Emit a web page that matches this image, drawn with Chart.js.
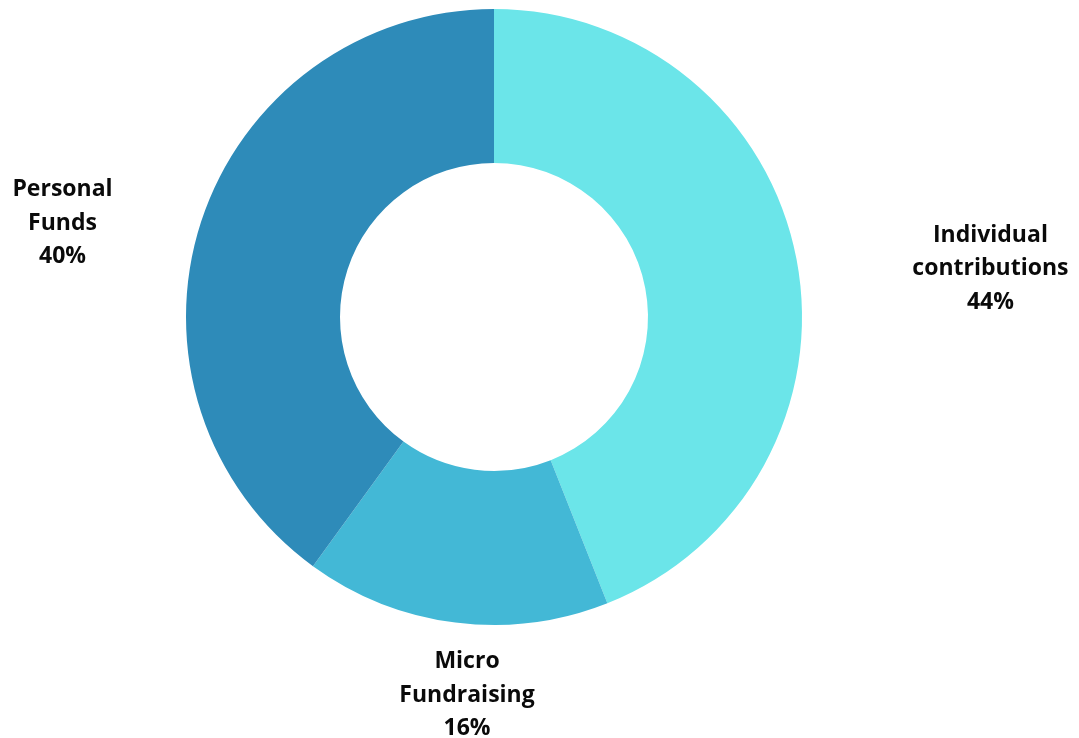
<!DOCTYPE html>
<html>
<head>
<meta charset="utf-8">
<script src="https://cdn.jsdelivr.net/npm/chart.js@4"></script>
<style>
  html,body{margin:0;padding:0;background:#fff;}
  #wrap{width:1079px;height:738px;position:relative;}
</style>
</head>
<body>
<div id="wrap"><canvas id="c"></canvas></div>
<script>
const categories = ["Individual contributions", "Micro Fundraising", "Personal Funds"];
const labelLines = [["Individual", "contributions", "44%"], ["Micro", "Fundraising", "16%"], ["Personal", "Funds", "40%"]];
const values = [44, 16, 40];
const colors = ["#6BE5E9", "#43B8D6", "#2E8BB9"];
// label placement: radial distance (multiple of outer radius) and angle tweak (deg)
const labelDist = [1.62, 1.225, 1.435];
const labelAngleAdj = [5.0, -3.1, -5.5];

const outsideLabels = {
  id: 'outsideLabels',
  afterDraw(chart) {
    const ctx = chart.ctx;
    const meta = chart.getDatasetMeta(0);
    ctx.save();
    ctx.font = "bold 23px 'Open Sans', sans-serif";
    ctx.fillStyle = "#0a0a0a";
    ctx.textAlign = "center";
    ctx.textBaseline = "middle";
    meta.data.forEach((arc, i) => {
      const mid = (arc.startAngle + arc.endAngle) / 2 + labelAngleAdj[i] * Math.PI / 180;
      const r = arc.outerRadius * labelDist[i];
      const x = arc.x + Math.cos(mid) * r;
      const y = arc.y + Math.sin(mid) * r;
      const lines = labelLines[i];
      const lh = 33.5;
      lines.forEach((t, k) => {
        ctx.fillText(t, x, y + 2 + (k - (lines.length - 1) / 2) * lh);
      });
    });
    ctx.restore();
  }
};

new Chart(document.getElementById('c'), {
  type: 'doughnut',
  data: {
    labels: categories,
    datasets: [{
      data: values,
      backgroundColor: colors,
      borderWidth: 0,
      hoverOffset: 0
    }]
  },
  options: {
    responsive: true,
    maintainAspectRatio: false,
    animation: false,
    cutout: '50%',
    layout: { padding: { left: 186, right: 277, top: 9, bottom: 113 } },
    plugins: {
      legend: { display: false },
      tooltip: { enabled: false }
    }
  },
  plugins: [outsideLabels]
});
</script>
</body>
</html>
